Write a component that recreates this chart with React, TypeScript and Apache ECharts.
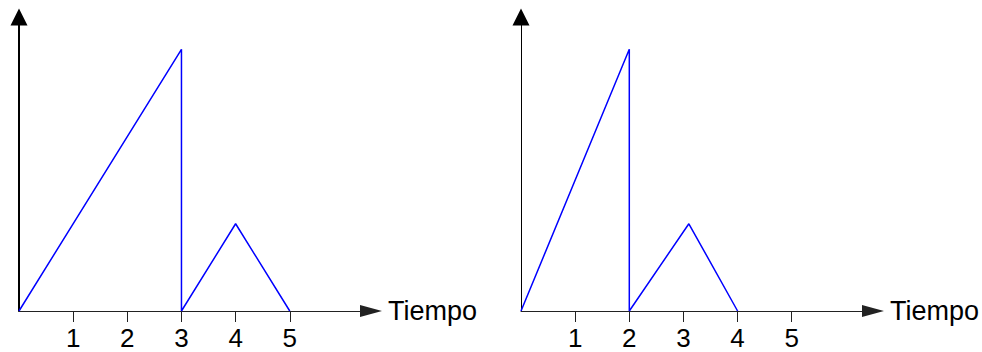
import React, { useEffect, useRef } from "react";
import * as echarts from "echarts";

// Data
const leftTimes = [0, 3, 3, 4, 5];
const leftValues = [0, 3, 0, 1, 0];
const rightTimes = [0, 2, 2, 3.1, 4];
const rightValues = [0, 3, 0, 1, 0];
const tickValues = [1, 2, 3, 4, 5];
const axisName = "Tiempo";

const FONT = "'Liberation Sans', Arial, sans-serif";

function zip(xs: number[], ys: number[]) {
  return xs.map((x, i) => [x, ys[i]]);
}

function makeXAxis(gridIndex: number) {
  return {
    type: "value",
    gridIndex,
    min: 0,
    max: 6.5,
    interval: 1,
    splitLine: { show: false },
    axisLine: {
      show: true,
      onZero: false,
      symbol: ["none", "triangle"],
      symbolSize: [12, 22],
      lineStyle: { color: "#222", width: 1 },
    },
    axisTick: {
      show: true,
      customValues: tickValues,
      length: 11,
      lineStyle: { color: "#222", width: 1 },
    },
    axisLabel: {
      show: true,
      customValues: tickValues,
      margin: 14,
      fontSize: 26,
      color: "#000",
      fontFamily: FONT,
    },
    name: axisName,
    nameLocation: "end",
    nameGap: 17,
    nameTextStyle: { fontSize: 27, color: "#000", fontFamily: FONT },
  };
}

function makeYAxis(gridIndex: number, width: number) {
  return {
    type: "value",
    gridIndex,
    min: 0,
    max: 3.37,
    splitLine: { show: false },
    axisLine: {
      show: true,
      onZero: false,
      symbol: ["none", "triangle"],
      symbolSize: [17, 17],
      lineStyle: { color: "#000", width },
    },
    axisTick: { show: false },
    axisLabel: { show: false },
  };
}

export default function App() {
  const ref = useRef<HTMLDivElement>(null);
  useEffect(() => {
    if (!ref.current) return;
    const chart = echarts.init(ref.current, undefined, { renderer: "svg" });
    chart.setOption({
      animation: false,
      backgroundColor: "#fff",
      grid: [
        { left: 19, top: 17, width: 352, height: 294 },
        { left: 521, top: 17, width: 352, height: 294 },
      ],
      xAxis: [makeXAxis(0), makeXAxis(1)],
      yAxis: [makeYAxis(0, 2), makeYAxis(1, 1)],
      series: [
        {
          type: "line",
          xAxisIndex: 0,
          yAxisIndex: 0,
          data: zip(leftTimes, leftValues),
          showSymbol: false,
          symbol: "none",
          lineStyle: { color: "#0000ff", width: 1.5 },
        },
        {
          type: "line",
          xAxisIndex: 1,
          yAxisIndex: 1,
          data: zip(rightTimes, rightValues),
          showSymbol: false,
          symbol: "none",
          lineStyle: { color: "#0000ff", width: 1.5 },
        },
      ],
    });
    return () => chart.dispose();
  }, []);
  return (
    <div
      ref={ref}
      style={{ position: "fixed", left: 0, top: 0, width: 982, height: 352, background: "#fff" }}
    />
  );
}
